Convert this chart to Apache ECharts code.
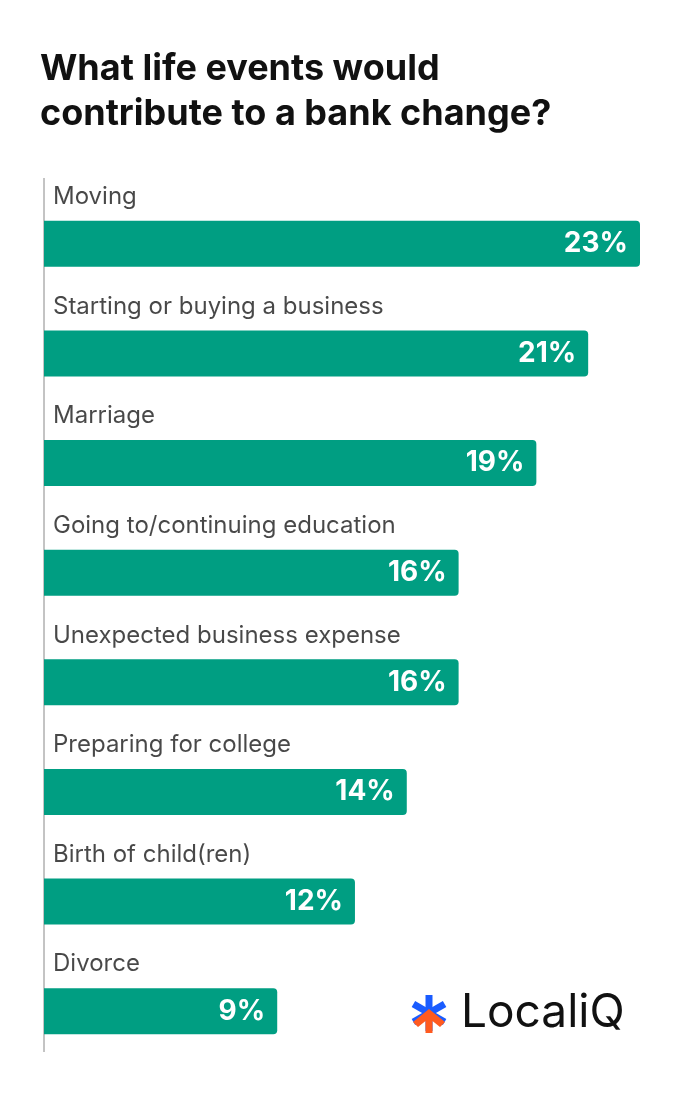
<!DOCTYPE html><html><head><meta charset="utf-8">
<script src="https://cdn.jsdelivr.net/npm/echarts@6/dist/echarts.min.js"></script>
<style>body{margin:0;background:#fff}#c{width:699px;height:1100px}</style></head><body><div id="c"></div>
<script>
const categories=["Moving","Starting or buying a business","Marriage","Going to/continuing education","Unexpected business expense","Preparing for college","Birth of child(ren)","Divorce"];
const values=[23,21,19,16,16,14,12,9];
const ch=echarts.init(document.getElementById('c'));
const F='Inter, "Noto Sans", sans-serif';
const cx=429,cy=1013;
const blueBar=r=>({type:'rect',shape:{x:cx-3.5,y:cy-18,width:7,height:36},rotation:r,originX:cx,originY:cy,style:{fill:'#1a5cff'}});
ch.setOption({
 animation:false,
 title:{text:'What life events would\ncontribute to a bank change?',left:35,top:42,textStyle:{fontFamily:F,fontSize:36,fontWeight:'bold',color:'#111',lineHeight:45}},
 grid:{left:44,right:59,top:189,bottom:34},
 xAxis:{type:'value',min:0,max:23,show:false},
 yAxis:{type:'category',data:categories,inverse:true,axisLine:{show:false},axisTick:{show:false},axisLabel:{show:false}},
 series:[
  {type:'bar',data:values,barWidth:46,itemStyle:{color:'#009e82',borderRadius:[0,4,4,0]},
   label:{show:true,position:'insideRight',distance:12,formatter:'{c}%',color:'#fff',fontFamily:F,fontSize:28,fontWeight:'bold'}},
  {type:'scatter',data:values.map(()=>0),symbolSize:0,silent:true,
   label:{show:true,position:'right',offset:[4,-47],formatter:p=>categories[p.dataIndex],color:'#1a1a1a',fontFamily:F,fontSize:24}}
 ],
 graphic:[
  {type:'line',shape:{x1:44,y1:178,x2:44,y2:1052},style:{stroke:'#888',lineWidth:1}},
  blueBar(0),blueBar(Math.PI/3),blueBar(-Math.PI/3),
  {type:'polygon',shape:{points:[[cx,cy-4],[cx+16,cy+9],[cx+11,cy+14],[cx+3.5,cy+8],[cx+3.5,cy+20],[cx-3.5,cy+20],[cx-3.5,cy+8],[cx-11,cy+14],[cx-16,cy+9]]},style:{fill:'#ff5a1f'}},
  {type:'text',left:461,top:990,style:{text:'LocaliQ',font:'46px '+F,fill:'#111'}}
 ]
});
</script></body></html>
